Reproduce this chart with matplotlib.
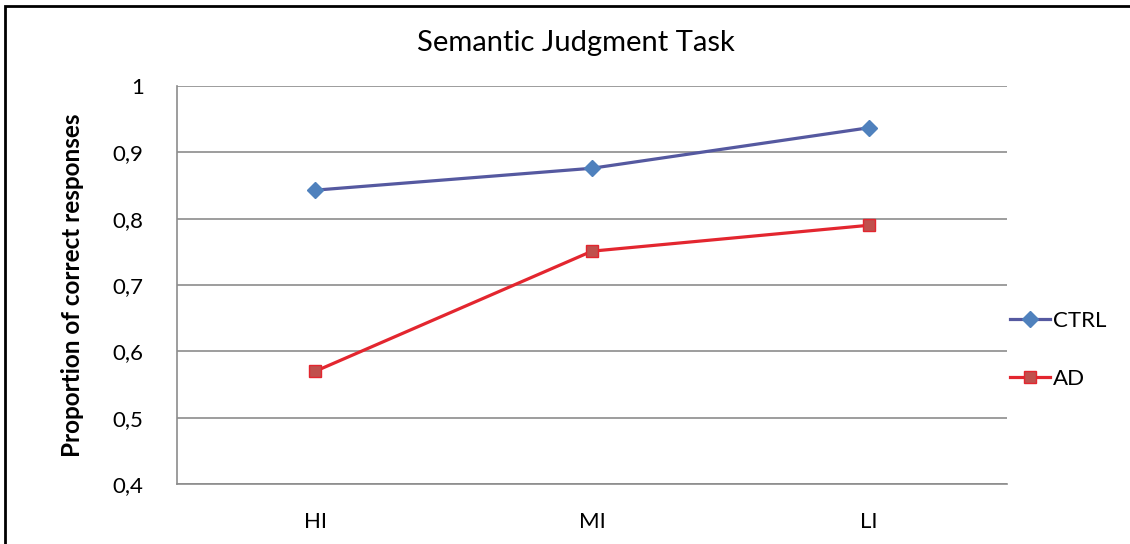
import numpy as np
import matplotlib.pyplot as plt
from matplotlib.patches import Rectangle

plt.rcParams['font.family'] = ['Lato', 'DejaVu Sans']

# data
categories = ['HI', 'MI', 'LI']
ctrl = [0.843, 0.876, 0.937]
ad = [0.570, 0.751, 0.790]
y_ticks = [0.4, 0.5, 0.6, 0.7, 0.8, 0.9, 1.0]
y_labels = ['0,4', '0,5', '0,6', '0,7', '0,8', '0,9', '1']

fig = plt.figure(figsize=(11.3, 5.44), dpi=100)
ax = fig.add_axes([177 / 1130, 60 / 544, 830 / 1130, 398 / 544])

x = np.arange(len(categories))
ax.plot(x, ctrl, color='#5559A0', lw=2.3, marker='D', markersize=8,
        markerfacecolor='#4F81BD', markeredgecolor='#4F81BD', label='CTRL')
ax.plot(x, ad, color='#E3262F', lw=2.3, marker='s', markersize=8.5,
        markerfacecolor='#C0504D', markeredgecolor='#E3262F', label='AD')

ax.set_xlim(-0.5, 2.5)
ax.set_ylim(0.4, 1.0)
ax.set_xticks(x)
ax.set_xticklabels(categories)
ax.set_yticks(y_ticks)
ax.set_yticklabels(y_labels)
ax.tick_params(axis='both', length=0, labelsize=16)
ax.tick_params(axis='y', pad=24)
ax.tick_params(axis='x', pad=20)
ax.grid(axis='y', color='#8C8C8C', lw=1.2)
ax.set_axisbelow(True)
for s in ['top', 'right']:
    ax.spines[s].set_visible(False)
for s in ['left', 'bottom']:
    ax.spines[s].set_color('#8C8C8C')
    ax.spines[s].set_linewidth(1.2)

ax.set_ylabel('Proportion of correct responses', fontsize=17.5, fontweight='bold', labelpad=21)
fig.text(576 / 1130, 1 - 43 / 544, 'Semantic Judgment Task', fontsize=21,
         ha='center', va='center')

ax.legend(loc='center left', bbox_to_anchor=(0.993, 0.337), frameon=False,
          fontsize=16, handlelength=1.8, handletextpad=0.15, labelspacing=1.7,
          borderaxespad=0)

# outer chart border (left and top visible)
fig.patches.append(Rectangle((5 / 1130, -0.1), 1.2, 1 - 6 / 544 + 0.1,
                             transform=fig.transFigure, fill=False,
                             edgecolor='black', lw=2))

fig.savefig('out.png', dpi=100)
